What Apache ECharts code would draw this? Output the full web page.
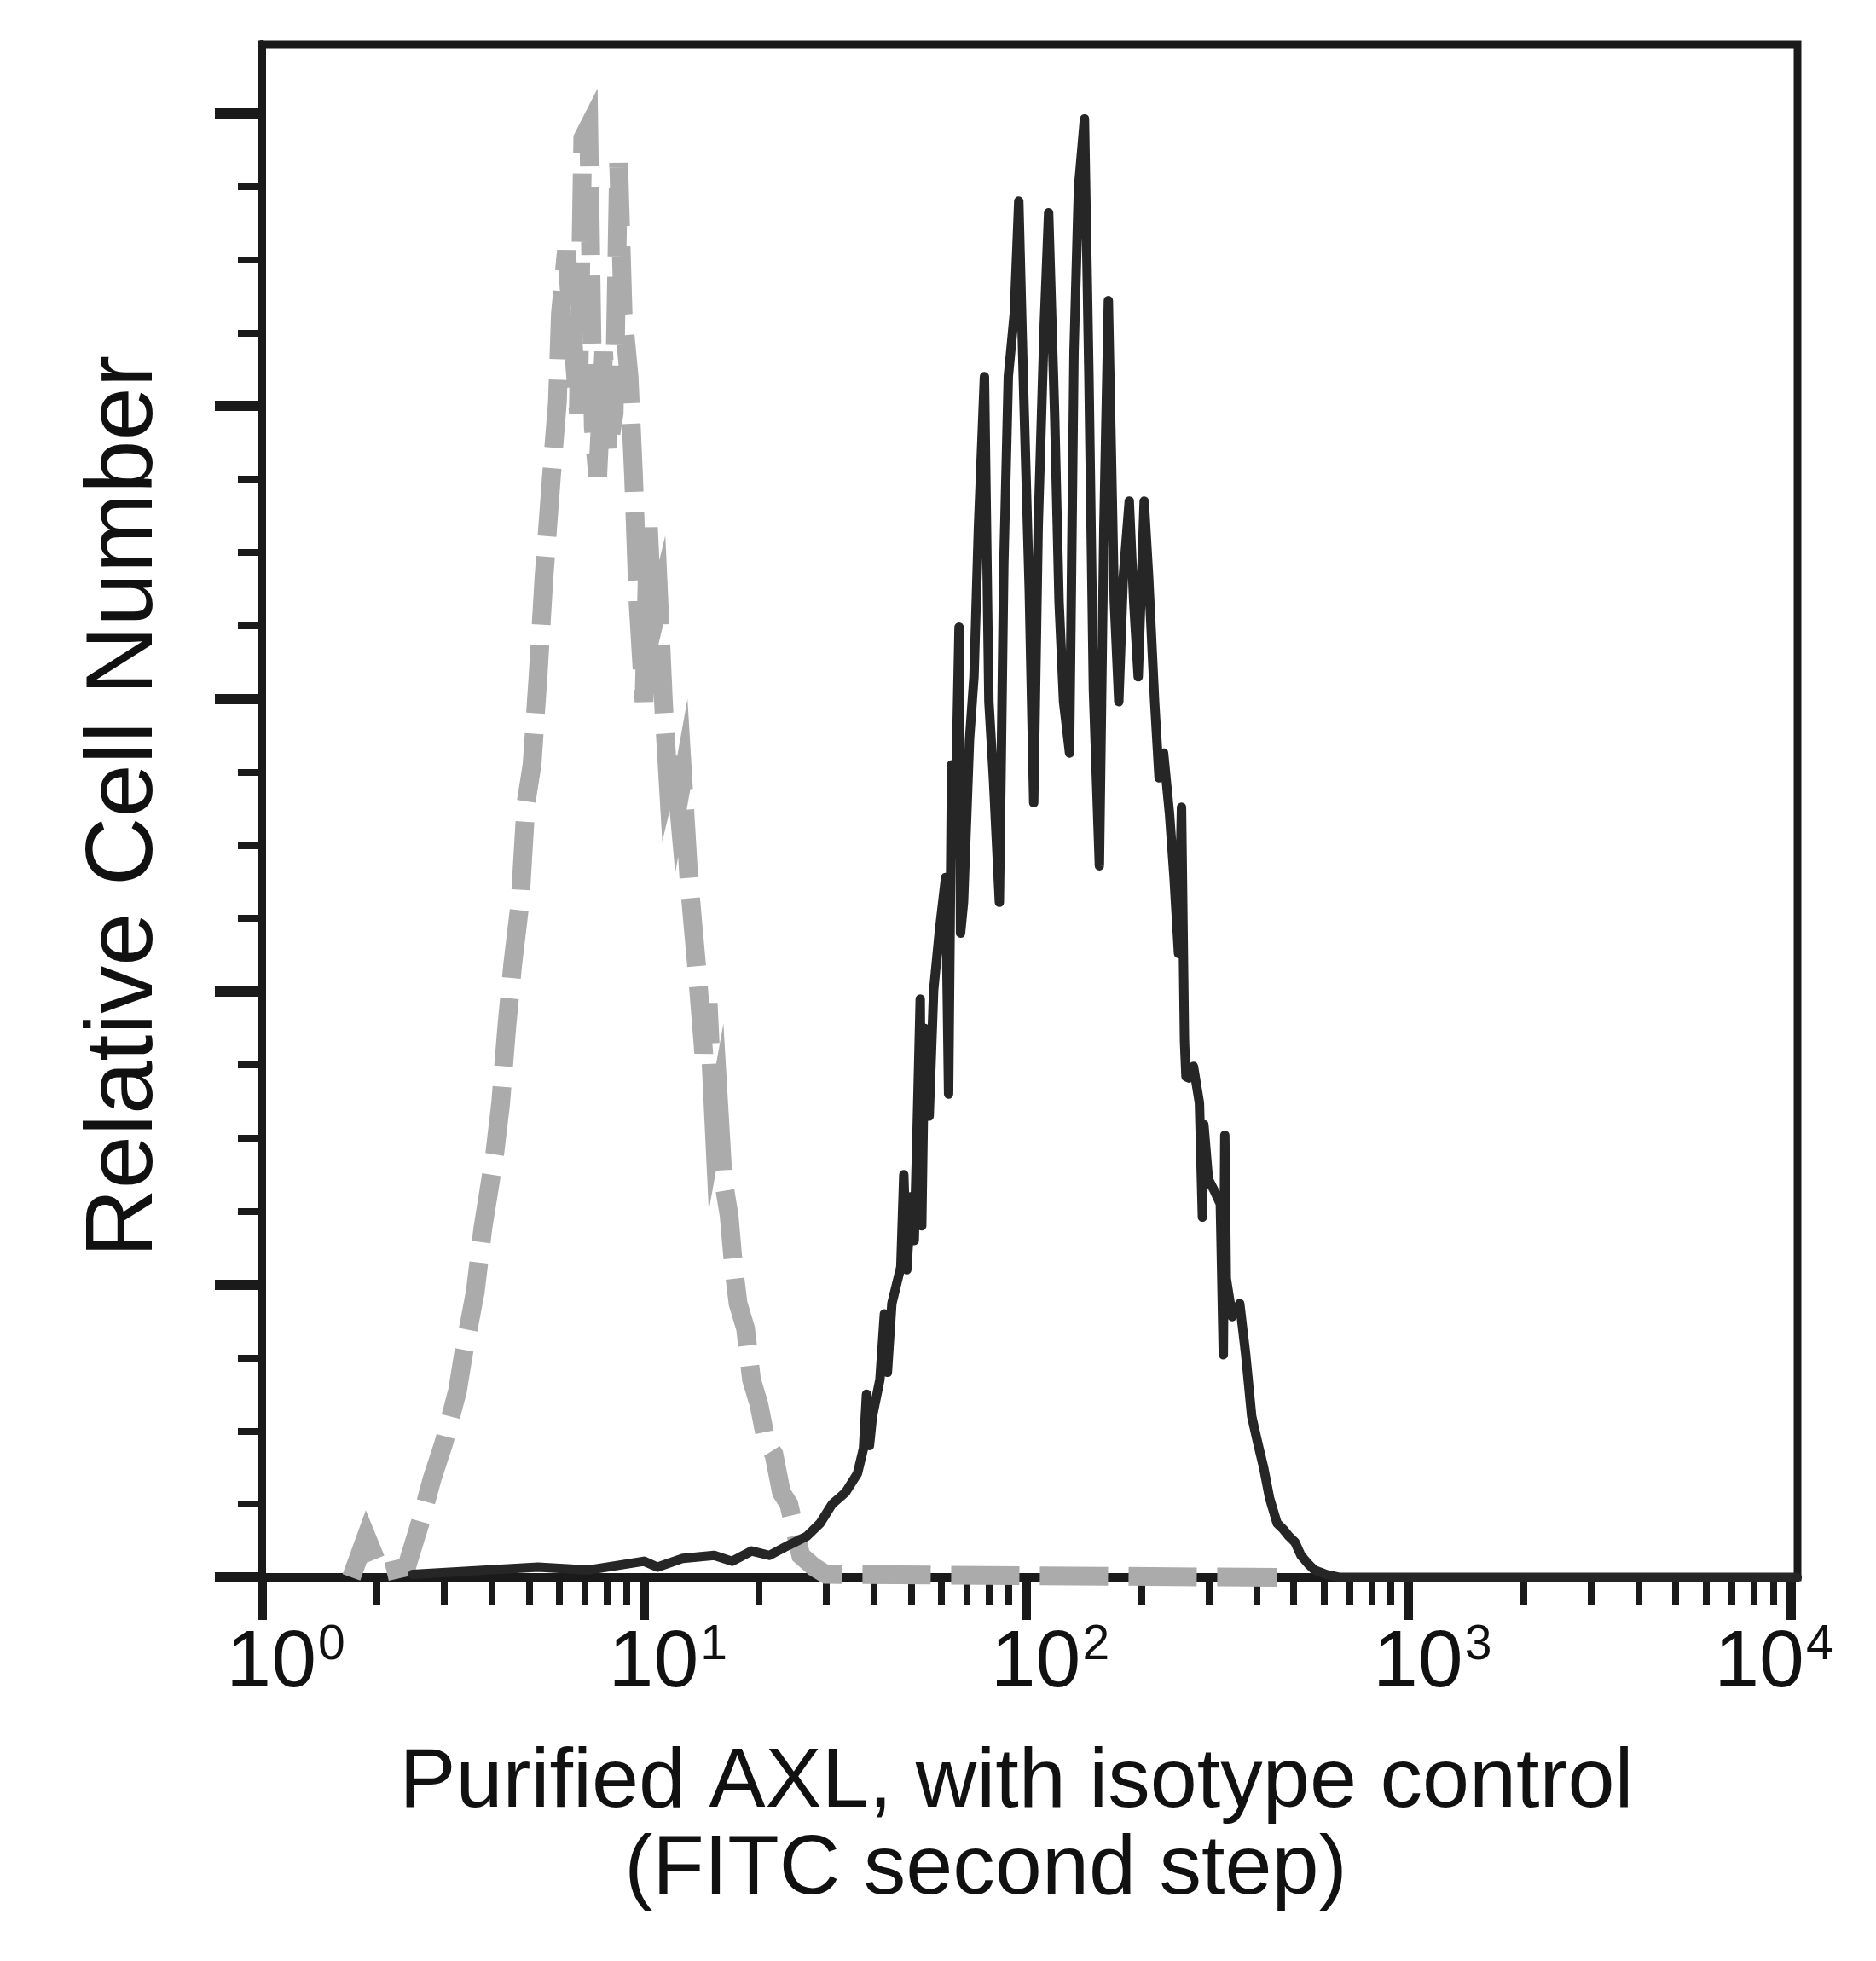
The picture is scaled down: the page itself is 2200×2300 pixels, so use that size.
<!DOCTYPE html>
<html lang="en">
<head>
    <meta charset="UTF-8">
    <script src="https://cdn.jsdelivr.net/npm/echarts@6/dist/echarts.min.js"></script>
    <title>AXL histogram</title>
    <style type="text/css">
        body { margin: 0; background: #fff; }
        #main { width: 2200px; height: 2300px; }
    </style>
</head>
<body>
<div id="main"></div>

<script type="text/javascript">
    // log scale: 256 channels per decade, 10^0 .. 10^4
    const decadeChannels = [0, 256, 512, 768, 1024];
    const countTicks = [0, 20, 40, 60, 80, 100];

    // purified AXL (black)
    const axlChannel = [
        101, 185, 219, 256, 265, 282, 303, 315, 328, 340,
        353, 365, 374, 382, 391, 399, 403, 405, 407, 409,
        414, 417, 419, 422, 428, 430, 432, 435, 437, 439,
        441, 442, 444, 447, 450, 454, 458, 460, 461, 462,
        464, 467, 468, 470, 474, 477, 480, 484, 487, 490,
        494, 497, 500, 504, 507, 510, 514, 517, 520, 524,
        527, 531, 534, 537, 541, 544, 547, 551, 554, 557,
        561, 564, 567, 571, 574, 577, 581, 584, 587, 591,
        594, 598, 601, 604, 608, 611, 614, 616, 618, 619,
        621, 624, 628, 630, 631, 634, 638, 642, 644, 645,
        646, 650, 655, 659, 663, 667, 671, 675, 680, 684,
        688, 692, 696, 701, 705, 713, 722, 1028
    ];
    const axlCount = [
        0.2, 0.7, 0.5, 1.1, 0.7, 1.3, 1.5, 1.1, 1.8, 1.5,
        2.2, 2.8, 3.7, 5.0, 5.8, 7.1, 8.8, 12.5, 9.0, 11.0,
        13.5, 18.0, 14.0, 18.7, 21.2, 27.5, 21.0, 26.0, 23.0, 31.0,
        39.5, 24.0, 37.5, 31.5, 40.1, 44.3, 47.8, 33.0, 44.0, 55.5,
        49.5, 64.9, 44.0, 46.1, 57.2, 61.5, 71.7, 82.0, 59.8, 54.6,
        46.1, 69.2, 82.0, 86.3, 94.0, 82.0, 67.5, 52.9, 71.7, 85.4,
        93.2, 79.5, 66.6, 59.8, 56.3, 83.7, 94.9, 99.6, 82.0, 60.6,
        48.6, 71.7, 87.2, 66.6, 59.8, 68.3, 73.5, 66.6, 61.5, 73.5,
        68.3, 59.8, 54.6, 56.3, 52.1, 47.8, 42.6, 52.6, 36.6, 34.2,
        34.1, 34.9, 32.4, 24.6, 30.9, 27.2, 26.4, 25.5, 15.2, 30.2,
        20.4, 17.8, 18.7, 15.2, 11.0, 9.2, 7.5, 5.4, 3.7, 3.3,
        2.8, 2.4, 1.5, 0.9, 0.5, 0.2, 0, 0
    ];

    // isotype control (grey dashed)
    const isoChannel = [
        60, 70, 80, 97, 106, 114, 122, 131, 135, 143,
        148, 156, 160, 164, 168, 173, 177, 181, 185, 189,
        194, 198, 200, 204, 209, 212, 215, 219, 222, 225,
        229, 232, 236, 239, 242, 246, 249, 252, 256, 259,
        262, 266, 269, 272, 276, 279, 282, 286, 289, 292,
        296, 299, 303, 306, 309, 313, 316, 319, 324, 328,
        333, 338, 343, 348, 353, 361, 370, 378, 680
    ];
    const isoCount = [
        0, 2.8, 0.3, 0.7, 3.7, 6.7, 9.2, 12.7, 15.2, 19.5,
        23.8, 28.9, 32.4, 37.5, 41.8, 46.1, 52.9, 55.5, 61.5, 68.3,
        75.2, 80.3, 86.3, 90.6, 83.7, 79.5, 98.3, 99.1, 78.6, 75.2,
        83.7, 76.9, 79.5, 96.6, 86.3, 82.0, 75.2, 66.6, 59.8, 71.7,
        64.9, 66.6, 59.8, 54.6, 56.3, 52.9, 54.6, 47.8, 44.3, 40.9,
        35.8, 39.2, 30.7, 32.4, 27.2, 24.7, 21.2, 18.7, 17.0, 13.5,
        11.8, 9.2, 8.4, 5.8, 5.0, 1.5, 0.7, 0.2, 0
    ];

    const xMax = 1028.6;
    const yMax = 104.7;

    const minorChannels = [];
    for (let d = 0; d < 4; d++) {
        for (let m = 2; m <= 9; m++) {
            minorChannels.push(256 * (d + Math.log10(m)));
        }
    }
    const minorCounts = [];
    for (let v = 5; v < 100; v += 5) {
        if (v % 20 !== 0) minorCounts.push(v);
    }

    function pairs(xs, ys) {
        return xs.map(function (x, i) { return [x, ys[i]]; });
    }

    const font = "'Liberation Sans', Arial, Helvetica, sans-serif";
    const ink = '#1a1a1a';

    const myChart = echarts.init(document.getElementById('main'));

    const option = {
        backgroundColor: '#fff',
        animation: false,
        grid: {
            left: 307, right: 92, top: 52, bottom: 450,
            show: true, borderColor: ink, borderWidth: 9, backgroundColor: 'transparent'
        },
        xAxis: [{
            type: 'value', min: 0, max: xMax, position: 'bottom',
            axisLine: { show: true, lineStyle: { color: ink, width: 10 } },
            axisTick: { show: true, customValues: decadeChannels, length: 50, lineStyle: { color: ink, width: 11 } },
            splitLine: { show: false },
            axisLabel: {
                show: true, customValues: decadeChannels, margin: 52, color: '#111',
                formatter: function (v) {
                    const e = Math.round(v / 256);
                    if (e === 4) return '{bx|10}{sx|' + e + '}';
                    return '{b|10}{s|' + e + '}';
                },
                rich: {
                    b: { fontSize: 95, fontFamily: font, color: '#111', lineHeight: 100, padding: [0, 0, 0, 56] },
                    s: { fontSize: 57, fontFamily: font, color: '#111', lineHeight: 100, verticalAlign: 'top', padding: [0, 0, 0, 2] },
                    bx: { fontSize: 95, fontFamily: font, color: '#111', lineHeight: 100 },
                    sx: { fontSize: 57, fontFamily: font, color: '#111', lineHeight: 100, verticalAlign: 'top', padding: [0, 40, 0, 2] }
                }
            }
        }, {
            type: 'value', min: 0, max: xMax, position: 'bottom',
            axisLine: { show: false },
            axisTick: { show: true, customValues: minorChannels, length: 33, lineStyle: { color: ink, width: 8 } },
            axisLabel: { show: false },
            splitLine: { show: false }
        }],
        yAxis: [{
            type: 'value', min: 0, max: yMax, position: 'left',
            axisLine: { show: true, lineStyle: { color: ink, width: 10 } },
            axisTick: { show: true, customValues: countTicks, length: 55, lineStyle: { color: ink, width: 12 } },
            axisLabel: { show: false },
            splitLine: { show: false }
        }, {
            type: 'value', min: 0, max: yMax, position: 'left',
            axisLine: { show: false },
            axisTick: { show: true, customValues: minorCounts, length: 28, lineStyle: { color: ink, width: 8 } },
            axisLabel: { show: false },
            splitLine: { show: false }
        }],
        series: [{
            name: 'Isotype control',
            type: 'line',
            xAxisIndex: 0, yAxisIndex: 0,
            data: pairs(isoChannel, isoCount),
            showSymbol: false,
            lineStyle: { color: '#ababab', width: 22, type: [80, 24], cap: 'butt', join: 'miter' },
            z: 2
        }, {
            name: 'Purified AXL',
            type: 'line',
            xAxisIndex: 0, yAxisIndex: 0,
            data: pairs(axlChannel, axlCount),
            showSymbol: false,
            lineStyle: { color: '#262626', width: 11, cap: 'round', join: 'round' },
            z: 3
        }],
        graphic: [{
            type: 'text', x: 147, y: 946, rotation: Math.PI / 2,
            style: {
                text: 'Relative Cell Number', fontSize: 112, fontFamily: font, fill: '#111',
                align: 'center', verticalAlign: 'middle', textAlign: 'center', textVerticalAlign: 'middle'
            }
        }, {
            type: 'text', x: 1192, y: 2092,
            style: {
                text: 'Purified AXL, with isotype control', fontSize: 99, fontFamily: font, fill: '#111',
                align: 'center', verticalAlign: 'middle', textAlign: 'center', textVerticalAlign: 'middle'
            }
        }, {
            type: 'text', x: 1156, y: 2194,
            style: {
                text: '(FITC second step)', fontSize: 99, fontFamily: font, fill: '#111',
                align: 'center', verticalAlign: 'middle', textAlign: 'center', textVerticalAlign: 'middle'
            }
        }]
    };

    myChart.setOption(option);
</script>
</body>
</html>
